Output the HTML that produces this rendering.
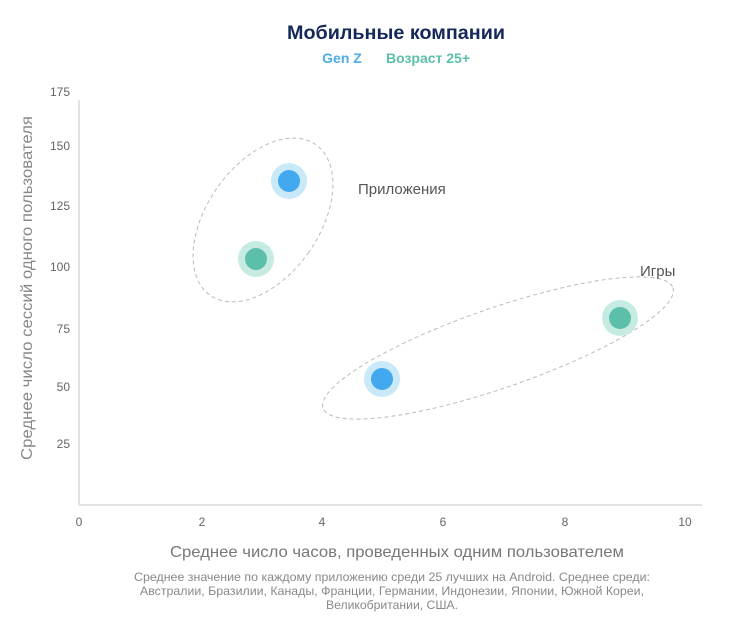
<!DOCTYPE html>
<html><head><meta charset="utf-8"><style>
body{margin:0;background:#fff;}
svg{display:block;font-family:"Liberation Sans",sans-serif;}
</style></head><body>
<svg width="746" height="628" viewBox="0 0 746 628">
<text x="396" y="39" text-anchor="middle" font-size="19" font-weight="bold" fill="#14285a" textLength="218" lengthAdjust="spacingAndGlyphs">Мобильные компании</text>
<text x="342" y="63" text-anchor="middle" font-size="14" font-weight="bold" fill="#4aaee8">Gen Z</text>
<text x="428" y="63" text-anchor="middle" font-size="14" font-weight="bold" fill="#5bbfa9">Возраст 25+</text>
<line x1="79" y1="100" x2="79" y2="505" stroke="#e2e2e2" stroke-width="2"/>
<line x1="79" y1="505" x2="702" y2="505" stroke="#e2e2e2" stroke-width="2"/>
<g font-size="12" fill="#666" text-anchor="end">
<text x="70" y="96">175</text><text x="70" y="150">150</text><text x="70" y="210">125</text>
<text x="70" y="271">100</text><text x="70" y="333">75</text><text x="70" y="391">50</text><text x="70" y="448">25</text>
</g>
<g font-size="12" fill="#666" text-anchor="middle">
<text x="79" y="526">0</text><text x="202" y="526">2</text><text x="322" y="526">4</text>
<text x="443" y="526">6</text><text x="565" y="526">8</text><text x="685" y="526">10</text>
</g>
<text x="397" y="557" text-anchor="middle" font-size="16" fill="#777" textLength="454" lengthAdjust="spacingAndGlyphs">Среднее число часов, проведенных одним пользователем</text>
<text transform="translate(32,288) rotate(-90)" text-anchor="middle" font-size="16" fill="#888" textLength="344" lengthAdjust="spacingAndGlyphs">Среднее число сессий одного пользователя</text>
<g font-size="12" fill="#888" text-anchor="middle">
<text x="392" y="581" textLength="516" lengthAdjust="spacingAndGlyphs">Среднее значение по каждому приложению среди 25 лучших на Android. Среднее среди:</text>
<text x="392" y="595" textLength="504" lengthAdjust="spacingAndGlyphs">Австралии, Бразилии, Канады, Франции, Германии, Индонезии, Японии, Южной Кореи,</text>
<text x="392" y="609" textLength="132" lengthAdjust="spacingAndGlyphs">Великобритании, США.</text>
</g>
<ellipse cx="263" cy="220" rx="56" ry="92" transform="rotate(35 263 220)" fill="none" stroke="#bbb" stroke-dasharray="4 3"/>
<ellipse cx="498" cy="348" rx="185" ry="40" transform="rotate(-19 498 348)" fill="none" stroke="#bbb" stroke-dasharray="4 3"/>
<text x="358" y="194" font-size="15" fill="#555">Приложения</text>
<text x="640" y="276" font-size="15" fill="#555">Игры</text>
<circle cx="289" cy="181" r="18" fill="#c9e8f8"/><circle cx="289" cy="181" r="11" fill="#42a9ee"/>
<circle cx="256" cy="259" r="18" fill="#c5ebe3"/><circle cx="256" cy="259" r="11" fill="#5bbfa9"/>
<circle cx="382" cy="379" r="18" fill="#c9e8f8"/><circle cx="382" cy="379" r="11" fill="#42a9ee"/>
<circle cx="620" cy="318" r="18" fill="#c5ebe3"/><circle cx="620" cy="318" r="11" fill="#5bbfa9"/>
</svg>
</body></html>
